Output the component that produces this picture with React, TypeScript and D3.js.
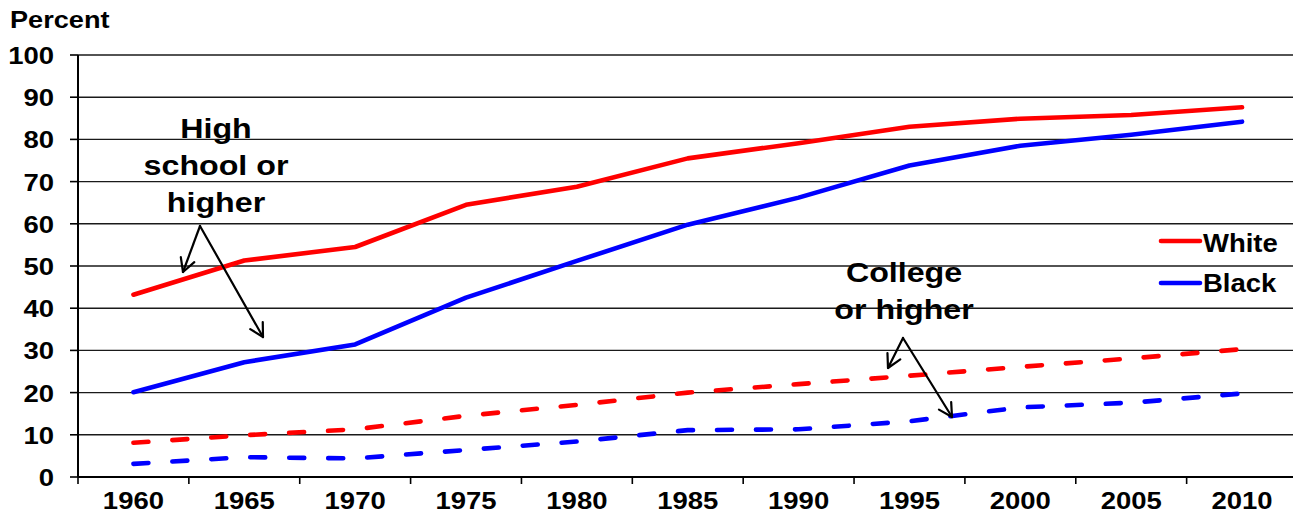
import React from "react";
import * as d3 from "d3";

const years = ["1960", "1965", "1970", "1975", "1980", "1985", "1990", "1995", "2000", "2005", "2010"];
const whiteHS = [43.2, 51.3, 54.5, 64.5, 68.8, 75.5, 79.1, 83.0, 84.9, 85.8, 87.6];
const blackHS = [20.1, 27.2, 31.4, 42.5, 51.2, 59.8, 66.2, 73.8, 78.5, 81.1, 84.2];
const whiteCollege = [8.1, 9.9, 11.3, 14.5, 17.1, 20.0, 22.0, 24.0, 26.1, 28.1, 30.3];
const blackCollege = [3.1, 4.7, 4.4, 6.4, 8.4, 11.1, 11.3, 13.2, 16.5, 17.6, 19.8];
const yTicks = [0, 10, 20, 30, 40, 50, 60, 70, 80, 90, 100];
const legendItems = [
  { label: "White", color: "#FF0000" },
  { label: "Black", color: "#0000FF" },
];

const W = 1293;
const H = 514;
const FONT = "'Liberation Sans', Arial, sans-serif";

function T({ x, y, children, size, anchor = "middle", sx = 1.15 }: any) {
  return (
    <text
      transform={`translate(${x},${y}) scale(${sx},1)`}
      textAnchor={anchor}
      fontFamily={FONT}
      fontWeight="bold"
      fontSize={size}
      fill="#000"
    >
      {children}
    </text>
  );
}

function Arrow({ x1, y1, x2, y2 }: any) {
  const ang = Math.atan2(y2 - y1, x2 - x1);
  const L = 15;
  const spread = 0.5;
  const a1x = x2 - L * Math.cos(ang - spread);
  const a1y = y2 - L * Math.sin(ang - spread);
  const a2x = x2 - L * Math.cos(ang + spread);
  const a2y = y2 - L * Math.sin(ang + spread);
  return (
    <g stroke="#000" strokeWidth={2.2} fill="none" strokeLinecap="round" strokeLinejoin="round">
      <line x1={x1} y1={y1} x2={x2} y2={y2} />
      <polyline points={`${a1x},${a1y} ${x2},${y2} ${a2x},${a2y}`} />
    </g>
  );
}

export default function App() {
  const x = d3.scaleBand<string>().domain(years).range([78, 1297.5]).paddingInner(0).paddingOuter(0);
  const y = d3.scaleLinear().domain([0, 100]).range([477, 55]);
  const cx = (i: number) => (x(years[i]) as number) + x.bandwidth() / 2;
  const line = d3
    .line<number>()
    .x((_, i) => cx(i))
    .y((d) => y(d));

  const series = [
    { data: whiteHS, color: "#FF0000", dash: null },
    { data: blackHS, color: "#0000FF", dash: null },
    { data: whiteCollege, color: "#FF0000", dash: "15 24" },
    { data: blackCollege, color: "#0000FF", dash: "15 24" },
  ];

  const tickXs = years.map((yr) => x(yr) as number).concat([78 + x.bandwidth() * years.length]);

  return (
    <svg width={W} height={H} style={{ position: "absolute", left: 0, top: 0, background: "#fff" }}>
      <rect x={0} y={0} width={W} height={H} fill="#fff" />
      {/* gridlines */}
      {yTicks.slice(1).map((t) => (
        <line key={t} x1={78} x2={W} y1={y(t)} y2={y(t)} stroke="#1a1a1a" strokeWidth={1.4} />
      ))}
      {/* y tick marks */}
      {yTicks.map((t) => (
        <line key={"yt" + t} x1={70} x2={78} y1={y(t)} y2={y(t)} stroke="#000" strokeWidth={1.6} />
      ))}
      {/* axes */}
      <line x1={78} x2={78} y1={y(100)} y2={y(0)} stroke="#000" strokeWidth={2} />
      <line x1={78} x2={W} y1={y(0)} y2={y(0)} stroke="#000" strokeWidth={2} />
      {tickXs.map((tx, i) => (
        <line key={"xt" + i} x1={tx} x2={tx} y1={y(0)} y2={y(0) + 7} stroke="#000" strokeWidth={1.6} />
      ))}
      {/* y labels */}
      {yTicks.map((t) => (
        <T key={"yl" + t} x={54} y={y(t) + 9} size={23.5} anchor="end" sx={1.17}>
          {t}
        </T>
      ))}
      <T x={10} y={28} size={23} anchor="start" sx={1.18}>
        Percent
      </T>
      {/* x labels */}
      {years.map((yr, i) => (
        <T key={"xl" + yr} x={cx(i)} y={509} size={23.5} sx={1.17}>
          {yr}
        </T>
      ))}
      {/* series */}
      {series.map((s, i) => (
        <path
          key={"s" + i}
          d={line(s.data) as string}
          fill="none"
          stroke={s.color}
          strokeWidth={4.6}
          strokeLinecap="round"
          strokeLinejoin="round"
          strokeDasharray={s.dash || undefined}
        />
      ))}
      {/* legend */}
      {legendItems.map((it, i) => (
        <g key={it.label}>
          <line x1={1161} x2={1200} y1={241 + i * 42} y2={241 + i * 42} stroke={it.color} strokeWidth={4.6} strokeLinecap="round" />
          <T x={1203} y={251.5 + i * 40.5} size={25} anchor="start" sx={1.1}>
            {it.label}
          </T>
        </g>
      ))}
      {/* annotations */}
      <T x={216} y={138} size={28}>High</T>
      <T x={216} y={175} size={28}>school or</T>
      <T x={216} y={212} size={28}>higher</T>
      <Arrow x1={200} y1={226} x2={183} y2={272} />
      <Arrow x1={200} y1={226} x2={263} y2={337} />
      <T x={904} y={282} size={28}>College</T>
      <T x={904} y={319} size={28}>or higher</T>
      <Arrow x1={903} y1={338} x2={888} y2={368} />
      <Arrow x1={903} y1={338} x2={952} y2={417} />
    </svg>
  );
}
